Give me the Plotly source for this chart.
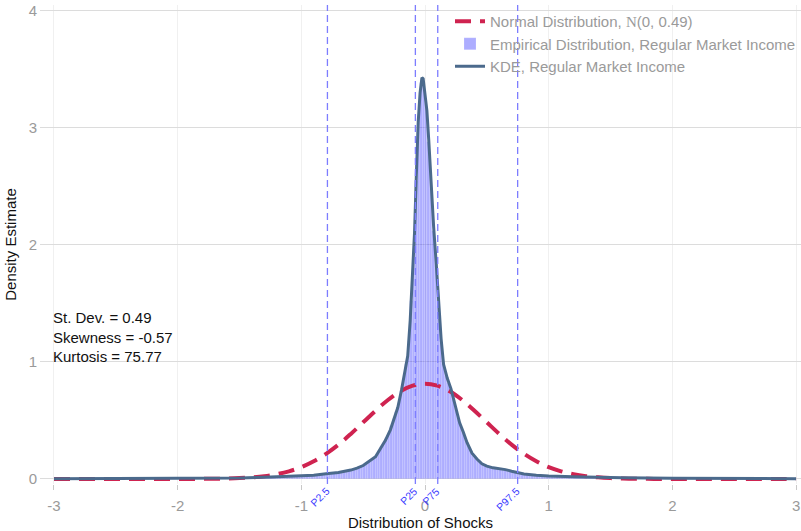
import numpy as np
import plotly.graph_objects as go

# ---------------- data ----------------
# Normal density N(0, 0.49) read at x = -3.0 .. 3.0 step 0.1
norm_x = [round(-3.0 + 0.1 * i, 2) for i in range(61)]
norm_y = [0, 0, 0, 0, 0, 0, 0, 0, 0, 0.0001, 0.0002, 0.0004, 0.0010, 0.0020, 0.0039,
          0.0075, 0.0137, 0.0241, 0.0406, 0.0655, 0.101, 0.151, 0.215, 0.293, 0.385,
          0.484, 0.583, 0.675, 0.749, 0.797, 0.814, 0.797, 0.749, 0.675, 0.583, 0.484,
          0.385, 0.293, 0.215, 0.151, 0.101, 0.0655, 0.0406, 0.0241, 0.0137, 0.0075,
          0.0039, 0.0020, 0.0010, 0.0004, 0.0002, 0.0001, 0, 0, 0, 0, 0, 0, 0, 0, 0]

# KDE of regular market income shocks
kde_x = [-3.0, -2.5, -2.0, -1.75, -1.5, -1.25, -1.0, -0.9, -0.8, -0.7, -0.6, -0.55, -0.5,
         -0.45, -0.4, -0.36, -0.32, -0.28, -0.25, -0.22, -0.19, -0.16, -0.14, -0.12, -0.10,
         -0.085, -0.07, -0.055, -0.04, -0.025, -0.015, 0.0, 0.015, 0.03, 0.05, 0.07, 0.09,
         0.11, 0.13, 0.15, 0.18, 0.21, 0.25, 0.28, 0.31, 0.34, 0.38, 0.42, 0.46, 0.5, 0.55,
         0.6, 0.65, 0.7, 0.75, 0.8, 0.9, 1.0, 1.2, 1.4, 1.6, 2.0, 2.5, 3.0]
kde_y = [0.002, 0.003, 0.004, 0.006, 0.009, 0.017, 0.026, 0.032, 0.044, 0.056, 0.076, 0.092,
         0.115, 0.15, 0.19, 0.26, 0.33, 0.42, 0.52, 0.61, 0.76, 0.93, 1.05, 1.35, 1.75, 2.1,
         2.6, 3.05, 3.3, 3.43, 3.42, 3.3, 3.15, 2.9, 2.5, 2.15, 1.85, 1.5, 1.2, 0.98, 0.86,
         0.77, 0.6, 0.48, 0.40, 0.31, 0.22, 0.17, 0.13, 0.11, 0.095, 0.088, 0.08, 0.066,
         0.055, 0.042, 0.032, 0.025, 0.019, 0.014, 0.010, 0.006, 0.003, 0.002]

# Empirical histogram: central bins (width 0.02) and tail bins (width 0.1)
hist_left = [0.019, 0.020, 0.019, 0.021, 0.022, 0.022, 0.024, 0.023, 0.025, 0.026,
             0.026, 0.028, 0.029, 0.030, 0.032, 0.033, 0.034, 0.037, 0.039, 0.042,
             0.044, 0.046, 0.049, 0.052, 0.054, 0.057, 0.061, 0.064, 0.068, 0.073,
             0.077, 0.083, 0.091, 0.099, 0.108, 0.118, 0.131, 0.148, 0.165, 0.180,
             0.200, 0.235, 0.27, 0.31, 0.35, 0.39, 0.45, 0.51, 0.57, 0.65,
             0.75, 0.86, 0.98, 1.18, 1.52, 1.90, 2.55, 3.10, 3.38, 3.38]
hist_right = [3.20, 2.88, 2.48, 2.12, 1.82, 1.48, 1.19, 0.98, 0.88, 0.82,
              0.76, 0.68, 0.60, 0.52, 0.45, 0.39, 0.33, 0.28, 0.235, 0.20,
              0.175, 0.155, 0.138, 0.124, 0.114, 0.106, 0.100, 0.095, 0.092, 0.089,
              0.087, 0.084, 0.080, 0.075, 0.069, 0.064, 0.060, 0.055, 0.050, 0.045,
              0.041, 0.038, 0.036, 0.034, 0.032, 0.031, 0.030, 0.028, 0.027, 0.026,
              0.025, 0.024, 0.023, 0.023, 0.022, 0.021, 0.021, 0.020, 0.019, 0.019]
tail_left = [0.002, 0.002, 0.002, 0.003, 0.003, 0.003, 0.003, 0.004, 0.004, 0.004,
             0.005, 0.005, 0.006, 0.007, 0.008, 0.010, 0.012, 0.015]
tail_right = [0.017, 0.015, 0.013, 0.012, 0.010, 0.009, 0.008, 0.007, 0.006, 0.006,
              0.005, 0.004, 0.004, 0.003, 0.003, 0.003, 0.002, 0.002]

pct_labels = ["P2.5", "P25", "P75", "P97.5"]
pct_values = [-0.789, -0.078, 0.103, 0.749]

stats_text = ["St. Dev. = 0.49", "Skewness = -0.57", "Kurtosis = 75.77"]

x_ticks = [-3, -2, -1, 0, 1, 2, 3]
y_ticks = [0, 1, 2, 3, 4]

# ---------------- build bins ----------------
nL, nR = len(hist_left), len(hist_right)
cL = [-0.01 - 0.02 * (nL - 1 - i) for i in range(nL)]
cR = [0.01 + 0.02 * i for i in range(nR)]
tL = [-1.25 - 0.1 * (len(tail_left) - 1 - i) for i in range(len(tail_left))]
tR = [1.25 + 0.1 * i for i in range(len(tail_right))]
bar_x = tL + cL + cR + tR
bar_y = tail_left + hist_left + hist_right + tail_right
bar_w = [0.1] * len(tL) + [0.02] * (nL + nR) + [0.1] * len(tR)

FONT = "Arial, Liberation Sans, sans-serif"
GRAY = "#9a9a9a"
FS = 15

fig = go.Figure()
fig.add_trace(go.Scatter(
    x=norm_x, y=norm_y, mode="lines", line_shape="spline",
    line=dict(color="#cf2350", width=4, dash="16px,9px"),
    name='Normal Distribution, <span style="font-family:\'Liberation Serif\', serif">N</span>(0, 0.49)',
))
fig.add_trace(go.Bar(
    x=bar_x, y=bar_y, width=bar_w,
    marker=dict(color="rgba(0,0,255,0.32)", line=dict(color="rgba(255,255,255,0.35)", width=0.5)),
    name="Empirical Distribution, Regular Market Income",
))
fig.add_trace(go.Scatter(
    x=kde_x, y=kde_y, mode="lines",
    line=dict(color="#4b6a8c", width=3),
    name="KDE, Regular Market Income",
))

for lab, v in zip(pct_labels, pct_values):
    fig.add_shape(type="line", x0=v, x1=v, y0=0, y1=1, xref="x", yref="paper",
                  line=dict(color="#7d7dff", width=1.3, dash="7px,4px"),
                  layer="above")
    fig.add_annotation(x=v, y=0, xref="x", yref="paper", text=lab, showarrow=False,
                       textangle=-45, xanchor="right", yanchor="top", xshift=7, yshift=2,
                       font=dict(family=FONT, size=10.5, color="#3a3aff"))

fig.add_annotation(x=-3, y=1.213, xref="x", yref="y", text="<br>".join(stats_text),
                   showarrow=False, xanchor="left", yanchor="middle", align="left", xshift=-3,
                   font=dict(family=FONT, size=FS, color="#111111"))

fig.update_layout(
    width=801, height=531,
    margin=dict(l=40, r=0, t=5, b=47),
    paper_bgcolor="white", plot_bgcolor="white",
    font=dict(family=FONT, size=FS, color=GRAY),
    bargap=0,
    showlegend=True,
    legend=dict(x=0.5388, y=1.0, xanchor="left", yanchor="top", bgcolor="rgba(0,0,0,0)",
                font=dict(family=FONT, size=FS, color=GRAY), tracegroupgap=0),
    xaxis=dict(range=[-3.113, 3.04], tickvals=x_ticks, ticktext=[str(t) for t in x_ticks],
               showgrid=True, gridcolor="#f0f0f0", zeroline=False, showline=False,
               ticks="outside", ticklen=5, tickcolor="#c8c8c8", ticklabelstandoff=3,
               tickfont=dict(family=FONT, size=FS, color=GRAY),
               title=dict(text="Distribution of Shocks", standoff=4,
                          font=dict(family=FONT, size=FS, color="#111111"))),
    yaxis=dict(range=[-0.043, 4.05], tickvals=y_ticks, ticktext=[str(t) for t in y_ticks],
               showgrid=True, gridcolor="#dcdcdc", zeroline=False, showline=False,
               ticks="", ticklabelstandoff=2, tickfont=dict(family=FONT, size=FS, color=GRAY),
               title=dict(text="Density Estimate", standoff=8,
                          font=dict(family=FONT, size=FS, color="#111111"))),
)

fig.write_html("out.html")
